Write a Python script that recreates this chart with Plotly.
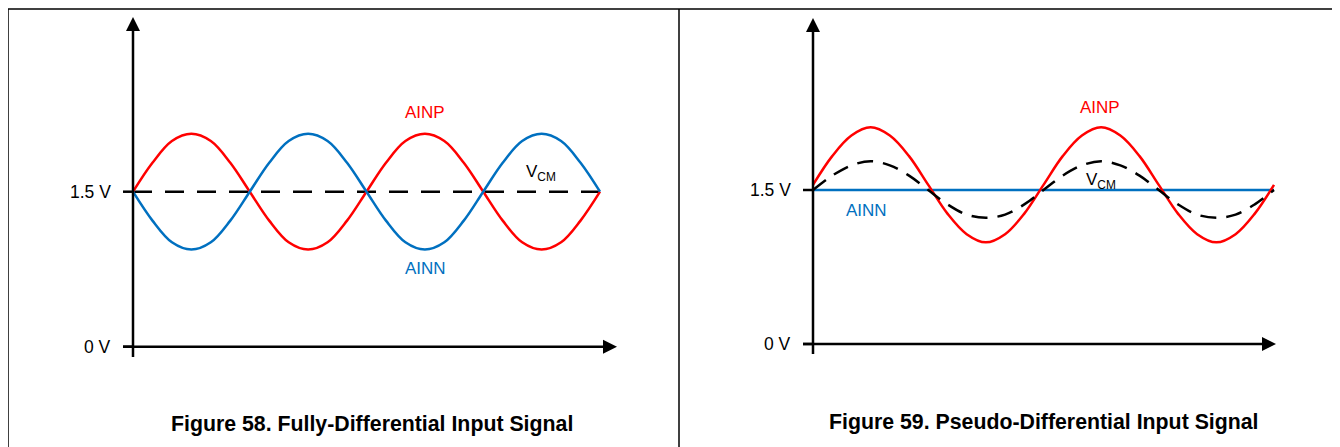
import plotly.graph_objects as go

# ---------------- data ----------------
phase = [0, 30, 60, 90, 120, 150, 180, 210, 240, 270, 300, 330,
         360, 390, 420, 450, 480, 510, 540, 570, 600, 630, 660, 690, 720]

# Figure 58 - fully differential (volts)
fd_ainp = [1.50, 1.78, 1.99, 2.06, 1.99, 1.78, 1.50, 1.22, 1.01, 0.94, 1.01, 1.22,
           1.50, 1.78, 1.99, 2.06, 1.99, 1.78, 1.50, 1.22, 1.01, 0.94, 1.01, 1.22, 1.50]
fd_ainn = [1.50, 1.22, 1.01, 0.94, 1.01, 1.22, 1.50, 1.78, 1.99, 2.06, 1.99, 1.78,
           1.50, 1.22, 1.01, 0.94, 1.01, 1.22, 1.50, 1.78, 1.99, 2.06, 1.99, 1.78, 1.50]
fd_vcm_x = [0, 730]
fd_vcm = [1.5, 1.5]

# Figure 59 - pseudo differential (volts)
pd_ainp = [1.55, 1.83, 2.03, 2.11, 2.03, 1.83, 1.55, 1.27, 1.07, 0.99, 1.07, 1.27,
           1.55, 1.83, 2.03, 2.11, 2.03, 1.83, 1.55, 1.27, 1.07, 0.99, 1.07, 1.27, 1.55]
pd_ainn_x = [0, 720]
pd_ainn = [1.5, 1.5]
pd_vcm = [1.50, 1.64, 1.74, 1.78, 1.74, 1.64, 1.50, 1.36, 1.26, 1.23, 1.26, 1.36,
          1.50, 1.64, 1.74, 1.78, 1.74, 1.64, 1.50, 1.36, 1.26, 1.23, 1.26, 1.36, 1.50]

tick_vals = [0, 1.5]
tick_text = ["0 V", "1.5 V"]
titles = ["Figure 58. Fully-Differential Input Signal",
          "Figure 59. Pseudo-Differential Input Signal"]

# ---------------- layout geometry (screen pixels) ----------------
OFF = 8                      # page body margin
W, H = 1340 - OFF, 447 - OFF  # figure size
RED = "#FF0000"
BLUE = "#0070C0"
FONT = "Liberation Sans, Arial, sans-serif"

# per panel (screen px): x of phase 0, px per degree, y of 0 V, px per volt
panels = [
    dict(x0=133, pxd=(600 - 133) / 720, y0=346.7, pxv=(346.7 - 191.7) / 1.5),
    dict(x0=813, pxd=(1274 - 813) / 720, y0=344.0, pxv=(344.0 - 190.0) / 1.5),
]


def px(x):
    return (x - OFF) / W


def py(y):
    return 1 - (y - OFF) / H


fig = go.Figure()

axes = [("x", "y"), ("x2", "y2")]
for i, p in enumerate(panels):
    xa = "xaxis" if i == 0 else "xaxis2"
    ya = "yaxis" if i == 0 else "yaxis2"
    fig.update_layout({
        xa: dict(domain=[0, 1],
                 range=[(OFF - p["x0"]) / p["pxd"], (OFF + W - p["x0"]) / p["pxd"]],
                 visible=False, fixedrange=True,
                 **({} if i == 0 else dict(overlaying="x"))),
        ya: dict(domain=[0, 1],
                 range=[(p["y0"] - (OFF + H)) / p["pxv"], (p["y0"] - OFF) / p["pxv"]],
                 visible=False, fixedrange=True,
                 **({} if i == 0 else dict(overlaying="y"))),
    })

# ---- traces: panel 1
fig.add_trace(go.Scatter(x=fd_vcm_x, y=fd_vcm, mode="lines", xaxis="x", yaxis="y",
                         line=dict(color="black", width=2.5, dash="19px,13px")))
fig.add_trace(go.Scatter(x=phase, y=fd_ainp, mode="lines", xaxis="x", yaxis="y",
                         line=dict(color=RED, width=2.5, shape="spline")))
fig.add_trace(go.Scatter(x=phase, y=fd_ainn, mode="lines", xaxis="x", yaxis="y",
                         line=dict(color=BLUE, width=2.5, shape="spline")))
# ---- traces: panel 2
fig.add_trace(go.Scatter(x=pd_ainn_x, y=pd_ainn, mode="lines", xaxis="x2", yaxis="y2",
                         line=dict(color=BLUE, width=2.5)))
fig.add_trace(go.Scatter(x=phase, y=pd_ainp, mode="lines", xaxis="x2", yaxis="y2",
                         line=dict(color=RED, width=2.5, shape="spline")))
fig.add_trace(go.Scatter(x=phase, y=pd_vcm, mode="lines", xaxis="x2", yaxis="y2",
                         line=dict(color="black", width=2.5, dash="16px,10px", shape="spline")))

annotations = []
shapes = []


def tri(points):
    return "M " + " L ".join(f"{px(a):.5f},{py(b):.5f}" for a, b in points) + " Z"


# axes with arrows, ticks and tick labels
axis_geo = [
    dict(xstart=123, xtip=617, ybottom=357, ytip=17, lab_r=113),
    dict(xstart=803, xtip=1276, ybottom=354, ytip=18, lab_r=793),
]
AL, AW = 14, 7  # arrowhead length, half width
axis_line = dict(color="black", width=2.5)
for i, (p, g) in enumerate(zip(panels, axis_geo)):
    xr, yr = axes[i]
    X0, Y0 = p["x0"], p["y0"]
    # x axis line + head
    shapes.append(dict(type="line", xref="paper", yref="paper",
                       x0=px(g["xstart"]), x1=px(g["xtip"] - AL + 1), y0=py(Y0), y1=py(Y0),
                       line=axis_line))
    shapes.append(dict(type="path", xref="paper", yref="paper",
                       path=tri([(g["xtip"], Y0), (g["xtip"] - AL, Y0 - AW), (g["xtip"] - AL, Y0 + AW)]),
                       fillcolor="black", line=dict(width=0)))
    # y axis line + head
    shapes.append(dict(type="line", xref="paper", yref="paper",
                       x0=px(X0), x1=px(X0), y0=py(g["ybottom"]), y1=py(g["ytip"] + AL - 1),
                       line=axis_line))
    shapes.append(dict(type="path", xref="paper", yref="paper",
                       path=tri([(X0, g["ytip"]), (X0 - AW, g["ytip"] + AL), (X0 + AW, g["ytip"] + AL)]),
                       fillcolor="black", line=dict(width=0)))
    for v, t in zip(tick_vals, tick_text):
        shapes.append(dict(type="line", xref="paper", yref=yr, x0=px(g["xstart"]), x1=px(X0),
                           y0=v, y1=v, line=axis_line))
        annotations.append(dict(x=px(g["lab_r"]), y=v, xref="paper", yref=yr,
                                text=t, showarrow=False, xanchor="right", yanchor="middle",
                                font=dict(family=FONT, size=17.5, color="black")))

# curve labels
labels = [
    ("AINP", RED, 425, 113), ("AINN", BLUE, 425, 268), ("V<sub>CM</sub>", "black", 541, 173),
    ("AINP", RED, 1100, 107), ("AINN", BLUE, 866, 210), ("V<sub>CM</sub>", "black", 1101, 181),
]
for t, c, X, Y in labels:
    annotations.append(dict(x=px(X), y=py(Y), xref="paper", yref="paper", text=t,
                            showarrow=False, xanchor="center", yanchor="middle",
                            font=dict(family=FONT, size=17, color=c)))

# figure titles
for t, X, Y in zip(titles, [372, 1044], [424, 422]):
    annotations.append(dict(x=px(X), y=py(Y), xref="paper", yref="paper",
                            text="<b>" + t + "</b>", showarrow=False,
                            xanchor="center", yanchor="middle",
                            font=dict(family=FONT, size=21.3, color="black")))

# frame lines
frame = dict(color="black", width=1.5)
shapes += [
    dict(type="line", xref="paper", yref="paper", x0=px(8), x1=1, y0=py(9), y1=py(9), line=frame),
    dict(type="line", xref="paper", yref="paper", x0=px(8), x1=px(8), y0=py(9), y1=0, line=frame),
    dict(type="line", xref="paper", yref="paper", x0=px(679), x1=px(679), y0=py(9), y1=0, line=frame),
]

fig.update_layout(
    width=W, height=H, margin=dict(l=0, r=0, t=0, b=0),
    paper_bgcolor="white", plot_bgcolor="white", showlegend=False,
    annotations=annotations, shapes=shapes,
)

fig.write_html("out.html", config={"displayModeBar": False})
